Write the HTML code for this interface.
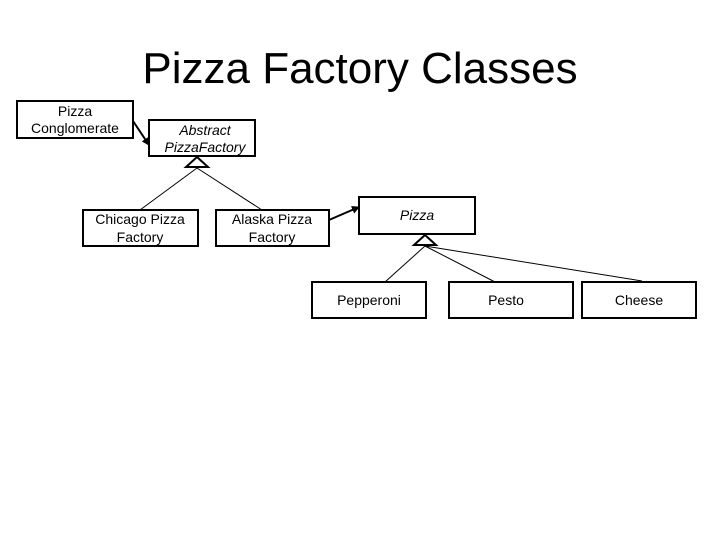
<!DOCTYPE html>
<html><head><style>
body{margin:0;background:#fff}
svg{display:block}
text{font-family:"Liberation Sans",Arial,sans-serif;font-size:14px;fill:#000}
</style></head><body>
<svg width="720" height="540" viewBox="0 0 720 540">
<defs><marker id="a" markerWidth="8" markerHeight="8" refX="7" refY="4" orient="auto" markerUnits="userSpaceOnUse"><path d="M0,0L8,4L0,8z" fill="#000"/></marker></defs>
<text x="360" y="83" text-anchor="middle" style="font-size:44px">Pizza Factory Classes</text>
<g fill="#fff" stroke="#000" stroke-width="2">
<rect x="17" y="101" width="116" height="37"/>
<rect x="149" y="120" width="106" height="36"/>
<rect x="83" y="210" width="115" height="36"/>
<rect x="216" y="210" width="113" height="36"/>
<rect x="359" y="197" width="116" height="37"/>
<rect x="312" y="282" width="114" height="36"/>
<rect x="449" y="282" width="124" height="36"/>
<rect x="582" y="282" width="114" height="36"/>
</g>
<g stroke="#000" stroke-width="1">
<line x1="197" y1="168" x2="140" y2="210"/>
<line x1="197" y1="168" x2="262" y2="210"/>
<line x1="425" y1="246" x2="385" y2="282"/>
<line x1="425" y1="246" x2="495" y2="282"/>
<line x1="425" y1="246" x2="642" y2="281"/>
</g>
<g stroke="#000" stroke-width="2" fill="none">
<line x1="133" y1="121" x2="149" y2="145" marker-end="url(#a)"/>
<line x1="329" y1="220" x2="359" y2="207" marker-end="url(#a)"/>
</g>
<g fill="#fff" stroke="#000" stroke-width="2">
<path d="M197,157L186,167L208,167z"/>
<path d="M425,235L414,245L436,245z"/>
</g>
<text x="75" y="116" text-anchor="middle">Pizza</text>
<text x="75" y="133" text-anchor="middle">Conglomerate</text>
<text x="205" y="135" text-anchor="middle" font-style="italic">Abstract</text>
<text x="205" y="152" text-anchor="middle" font-style="italic">PizzaFactory</text>
<text x="140" y="224" text-anchor="middle">Chicago Pizza</text>
<text x="140" y="242" text-anchor="middle">Factory</text>
<text x="272" y="224" text-anchor="middle">Alaska Pizza</text>
<text x="272" y="242" text-anchor="middle">Factory</text>
<text x="417" y="220" text-anchor="middle" font-style="italic">Pizza</text>
<text x="369" y="305" text-anchor="middle">Pepperoni</text>
<text x="506" y="305" text-anchor="middle">Pesto</text>
<text x="639" y="305" text-anchor="middle">Cheese</text>
</svg>
</body></html>
